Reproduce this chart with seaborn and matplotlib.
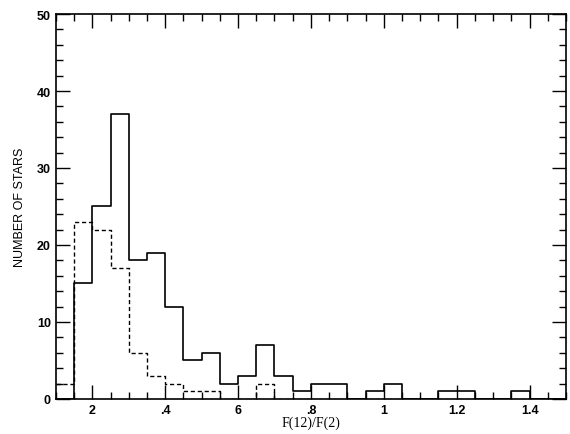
import numpy as np
import pandas as pd
import matplotlib
matplotlib.use("Agg")
import matplotlib.pyplot as plt
from matplotlib.ticker import MultipleLocator, FixedLocator, FixedFormatter
import seaborn as sns

# %% data: bins of width 0.05 starting at 0.10
bin_edges = [0.10, 0.15, 0.20, 0.25, 0.30, 0.35, 0.40, 0.45, 0.50, 0.55,
             0.60, 0.65, 0.70, 0.75, 0.80, 0.85, 0.90, 0.95, 1.00, 1.05,
             1.10, 1.15, 1.20, 1.25, 1.30, 1.35, 1.40, 1.45, 1.50]
all_counts = [0, 15, 25, 37, 18, 19, 12, 5, 6, 2, 3, 7, 3, 1,
              2, 2, 0, 1, 2, 0, 0, 1, 1, 0, 0, 1, 0, 0]
sub_counts = [2, 23, 22, 17, 6, 3, 2, 1, 1, 0, 0, 2, 0, 0,
              0, 0, 0, 0, 0, 0, 0, 0, 0, 0, 0, 0, 0, 0]
tick_pos = [0.2, 0.4, 0.6, 0.8, 1.0, 1.2, 1.4]
tick_labels = ['2', '.4', '6', '.8', '1', '1.2', '1.4']

centers = [(a + b) / 2 for a, b in zip(bin_edges[:-1], bin_edges[1:])]
df = pd.DataFrame({'ratio': centers, 'all': all_counts, 'sub': sub_counts})

# %% plot
sns.set_style('ticks')
plt.rcParams['font.family'] = ['Liberation Sans', 'DejaVu Sans']

fig = plt.figure(figsize=(5.7, 4.35), dpi=100)
ax = fig.add_axes([0.098, 0.0805, 0.895, 0.885])

sns.histplot(data=df, x='ratio', weights='all', bins=bin_edges,
             element='step', fill=False, color='black', linewidth=1.2, ax=ax)
sns.histplot(data=df, x='ratio', weights='sub', bins=bin_edges,
             element='step', fill=False, color='black', linewidth=1.0,
             linestyle=(0, (3, 2)), ax=ax)

ax.set_xlim(0.1, 1.5)
ax.set_ylim(0, 50)
ax.xaxis.set_major_locator(FixedLocator(tick_pos))
ax.xaxis.set_major_formatter(FixedFormatter(tick_labels))
ax.xaxis.set_minor_locator(MultipleLocator(0.05))
ax.yaxis.set_major_locator(MultipleLocator(10))
ax.yaxis.set_minor_locator(MultipleLocator(2))
ax.tick_params(which='both', direction='in', top=True, right=True,
               width=1.0, labelsize=9, color='black', labelcolor='black')
ax.tick_params(which='major', length=10)
ax.tick_params(which='minor', length=5)
for s in ax.spines.values():
    s.set_linewidth(1.2)
    s.set_color('black')
    s.set_visible(True)
for lab in ax.get_xticklabels() + ax.get_yticklabels():
    lab.set_fontweight('bold')

ax.set_xlabel('F(12)/F(2)', fontsize=10, family='Liberation Serif',
              color='black', labelpad=0)
ax.set_ylabel('NUMBER OF STARS', fontsize=9, color='black', labelpad=8)

fig.savefig('out.png', dpi=100)
